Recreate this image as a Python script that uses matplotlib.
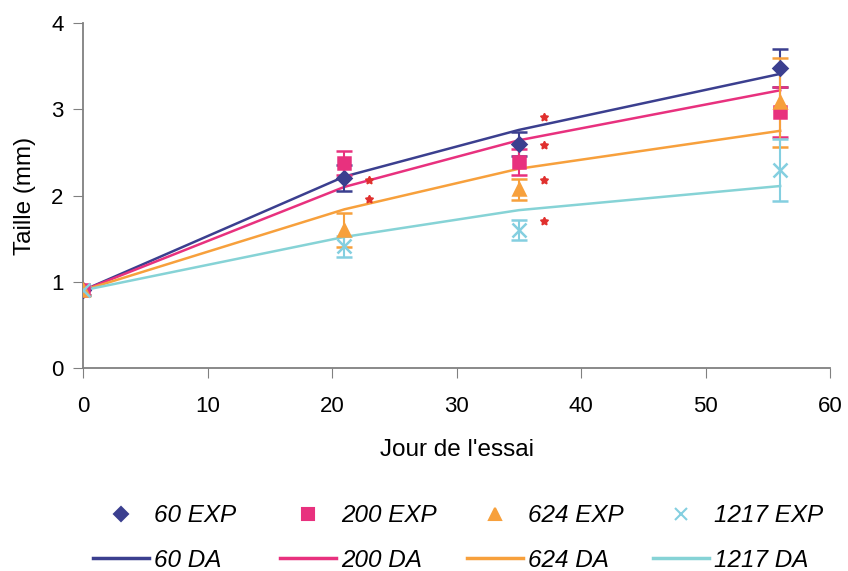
import numpy as np
import matplotlib.pyplot as plt

plt.rcParams['font.family'] = ['Liberation Sans', 'DejaVu Sans']

# measured (EXP) values with error bars
days_exp = [0, 21, 35, 56]
exp_60 = [0.9, 2.2, 2.6, 3.48]
err_60 = [0.05, 0.15, 0.14, 0.22]
exp_200 = [0.9, 2.38, 2.39, 2.97]
err_200 = [0.05, 0.14, 0.15, 0.29]
exp_624 = [0.9, 1.6, 2.07, 3.08]
err_624 = [0.05, 0.2, 0.12, 0.52]
exp_1217 = [0.9, 1.41, 1.6, 2.3]
err_1217 = [0.05, 0.12, 0.12, 0.36]

# model (DA) curves
days_da = [0, 21, 35, 56]
da_60 = [0.9, 2.22, 2.76, 3.41]
da_200 = [0.9, 2.1, 2.64, 3.22]
da_624 = [0.9, 1.84, 2.31, 2.75]
da_1217 = [0.9, 1.52, 1.83, 2.11]

# significance stars
star_x = [23, 23, 37, 37, 37, 37]
star_y = [2.18, 1.96, 2.91, 2.58, 2.18, 1.71]

colors = ['#3b3f8f', '#e8317e', '#f7a03c', '#84cfe0']
da_colors = ['#3b3f8f', '#e8317e', '#f7a03c', '#86d3d6']
markers = ['D', 's', '^', 'x']
names = ['60', '200', '624', '1217']
exps = [exp_60, exp_200, exp_624, exp_1217]
errs = [err_60, err_200, err_624, err_1217]
das = [da_60, da_200, da_624, da_1217]

fig = plt.figure(figsize=(8.48, 5.71), dpi=100)
ax = fig.add_axes([83 / 848, 1 - 368 / 571, 747 / 848, 345 / 571])

for i in range(4):
    ax.plot(days_da, das[i], color=da_colors[i], lw=1.8, zorder=2)
    ms = {'D': 7, 's': 9, '^': 9, 'x': 10}[markers[i]]
    ax.errorbar(days_exp, exps[i], yerr=errs[i], fmt=markers[i], color=colors[i],
                ms=ms, mew=1.8, elinewidth=1.5, capsize=6, capthick=2, zorder=3)

ax.plot(star_x, star_y, ls='none', marker=(5, 1, 0), color='#e0302e', ms=6)

ax.set_xlim(0, 60)
ax.set_ylim(0, 4)
ax.set_xticks(range(0, 61, 10))
ax.set_yticks(range(0, 5))
for s in ['top', 'right']:
    ax.spines[s].set_visible(False)
for s in ['left', 'bottom']:
    ax.spines[s].set_color('#808080')
    ax.spines[s].set_linewidth(1.3)
ax.tick_params(direction='out', length=7, color='#808080', labelsize=16)
ax.tick_params(axis='x', pad=13)
ax.tick_params(axis='y', pad=7)
ax.set_xlabel("Jour de l'essai", fontsize=17.5, labelpad=16)
ax.set_ylabel('Taille (mm)', fontsize=17.5, labelpad=11)

# legend: one small two-row legend per series, spaced like the original
col_x = [93, 280, 467, 653]
for i in range(4):
    h_exp = plt.Line2D([], [], ls='none', marker=markers[i], color=colors[i],
                       ms=8 if markers[i] != 'D' else 7, mew=1.5)
    h_da = plt.Line2D([], [], color=da_colors[i], lw=2.5)
    fig.legend([h_exp, h_da], [names[i] + ' EXP', names[i] + ' DA'],
               loc='center left', bbox_to_anchor=(col_x[i] / 848, 1 - 538 / 571),
               frameon=False, borderpad=0, borderaxespad=0,
               prop={'style': 'italic', 'size': 17.5},
               handlelength=2.3, handletextpad=0.2, labelspacing=0.9)

fig.savefig('out.png', dpi=100)
